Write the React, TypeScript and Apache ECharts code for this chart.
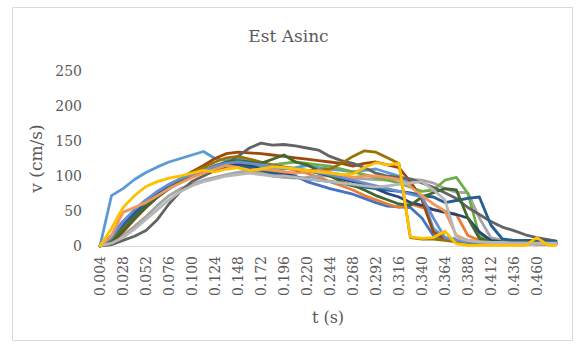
import React, { useEffect, useRef } from "react";
import * as echarts from "echarts";

// time categories 0.004 .. 0.480 s
const categories: string[] = Array.from({ length: 120 }, (_, i) => (0.004 * (i + 1)).toFixed(3));
// sample positions (category indices) at which the values below were read
const sampleIdx: number[] = Array.from({ length: 40 }, (_, k) => k * 3).concat([119]);

const yTicks = [0, 50, 100, 150, 200, 250];

const s01 = [0, 15, 35, 50, 65, 78, 88, 96, 103, 108, 112, 115, 117, 116, 112, 108, 105, 100, 92, 87, 82, 78, 74, 68, 62, 57, 56, 55, 40, 15, 10, 8, 6, 5, 5, 4, 4, 3, 3, 3, 3];
const s02 = [0, 10, 28, 45, 60, 72, 84, 92, 100, 106, 112, 116, 118, 118, 117, 115, 112, 108, 104, 98, 92, 86, 80, 72, 66, 60, 55, 60, 55, 52, 50, 45, 15, 8, 6, 5, 5, 4, 4, 4, 4];
const s03 = [0, 5, 15, 28, 42, 58, 72, 82, 88, 94, 98, 102, 105, 108, 104, 100, 98, 97, 98, 100, 100, 98, 97, 96, 95, 94, 96, 95, 94, 90, 82, 77, 76, 40, 12, 8, 7, 6, 5, 5, 5];
const s04 = [0, 25, 55, 72, 85, 92, 97, 100, 104, 108, 106, 110, 112, 108, 110, 113, 112, 110, 108, 106, 104, 102, 103, 112, 119, 116, 118, 13, 11, 12, 21, 3, 1, 1, 1, 1, 1, 1, 12, 1, 1];
const s05 = [0, 72, 82, 95, 105, 113, 120, 125, 130, 135, 125, 122, 125, 120, 115, 112, 110, 112, 115, 112, 110, 108, 106, 108, 110, 105, 100, 90, 70, 25, 12, 10, 8, 6, 6, 5, 5, 4, 4, 4, 4];
const s06 = [0, 8, 22, 40, 55, 70, 82, 92, 100, 106, 110, 114, 116, 118, 117, 116, 118, 120, 118, 116, 114, 110, 106, 102, 98, 94, 90, 84, 78, 80, 94, 98, 75, 15, 6, 5, 5, 4, 4, 4, 4];
const s07 = [0, 10, 30, 48, 62, 75, 85, 95, 102, 108, 112, 116, 118, 115, 110, 105, 102, 104, 108, 104, 100, 96, 92, 88, 82, 75, 70, 62, 58, 52, 48, 45, 40, 20, 8, 6, 5, 5, 4, 4, 4];
const s08 = [0, 5, 20, 38, 55, 70, 84, 96, 106, 115, 125, 132, 134, 133, 132, 130, 128, 126, 124, 122, 120, 118, 114, 118, 120, 116, 112, 92, 66, 20, 10, 8, 6, 5, 5, 4, 4, 4, 3, 3, 3];
const s09 = [0, 2, 8, 14, 22, 38, 60, 78, 92, 100, 108, 118, 128, 140, 147, 144, 145, 143, 140, 137, 128, 122, 118, 112, 104, 100, 98, 96, 90, 84, 76, 68, 55, 45, 35, 27, 22, 16, 12, 9, 7];
const s10 = [0, 8, 25, 42, 58, 72, 85, 95, 105, 112, 120, 126, 128, 124, 120, 116, 113, 110, 108, 108, 110, 118, 128, 136, 134, 126, 118, 12, 10, 10, 8, 6, 5, 5, 4, 4, 4, 3, 3, 3, 3];
const s11 = [0, 12, 30, 46, 60, 74, 86, 94, 100, 105, 110, 112, 114, 112, 108, 104, 100, 98, 96, 94, 92, 90, 86, 84, 82, 80, 78, 76, 72, 70, 62, 65, 68, 70, 30, 10, 8, 8, 8, 7, 7];
const s12 = [0, 6, 22, 40, 56, 70, 82, 92, 100, 108, 115, 120, 122, 120, 118, 124, 130, 120, 116, 108, 100, 92, 87, 80, 72, 66, 60, 58, 70, 76, 82, 80, 40, 11, 6, 5, 5, 4, 4, 4, 4];
const s13 = [0, 12, 35, 52, 66, 78, 88, 96, 102, 108, 114, 118, 120, 118, 116, 114, 112, 110, 108, 105, 102, 98, 94, 90, 86, 82, 78, 74, 70, 40, 12, 8, 6, 5, 5, 4, 4, 4, 3, 3, 3];
const s14 = [0, 15, 48, 55, 62, 72, 82, 90, 98, 104, 110, 115, 112, 108, 110, 108, 106, 104, 106, 108, 105, 102, 98, 100, 100, 98, 95, 85, 72, 60, 50, 15, 8, 6, 5, 4, 4, 4, 3, 3, 3];
const s15 = [0, 4, 12, 24, 38, 52, 66, 78, 86, 92, 96, 100, 102, 104, 102, 100, 100, 98, 96, 94, 92, 90, 88, 86, 84, 86, 88, 90, 92, 80, 66, 12, 8, 6, 5, 5, 4, 4, 4, 4, 4];

const seriesValues = [s01, s02, s03, s05, s06, s07, s08, s09, s10, s11, s12, s13, s14, s15, s04];
const seriesColors = [
  "#4472C4", "#ED7D31", "#A5A5A5", "#5B9BD5", "#70AD47", "#264478", "#9E480E",
  "#636363", "#997300", "#255E91", "#43682B", "#698ED0", "#F1975A", "#B7B7B7", "#FFC000",
];

const FONT = "'DejaVu Serif', 'Liberation Serif', serif";

export default function App() {
  const ref = useRef<HTMLDivElement>(null);
  useEffect(() => {
    if (!ref.current) return;
    const chart = echarts.init(ref.current, undefined, { renderer: "svg" });
    chart.setOption({
      animation: false,
      backgroundColor: "#ffffff",
      title: {
        text: "Est Asinc",
        left: "center",
        top: 22,
        textStyle: { fontFamily: FONT, fontSize: 17, fontWeight: "normal", color: "#595959" },
      },
      graphic: [
        {
          type: "rect",
          shape: { x: 12.5, y: 7.5, width: 560, height: 333 },
          style: { fill: "none", stroke: "#D9D9D9", lineWidth: 1 },
          silent: true,
          z: -1,
        },
      ],
      grid: { left: 100, right: 21, top: 71, bottom: 101 },
      xAxis: {
        type: "category",
        data: categories,
        boundaryGap: false,
        name: "t (s)",
        nameLocation: "middle",
        nameGap: 63,
        nameTextStyle: { fontFamily: FONT, fontSize: 16, color: "#595959" },
        axisLine: { lineStyle: { color: "#D9D9D9", width: 1 } },
        axisTick: { show: false },
        axisLabel: {
          interval: 5,
          rotate: 90,
          margin: 10,
          fontFamily: FONT,
          fontSize: 14,
          color: "#595959",
        },
        splitLine: { show: false },
      },
      yAxis: {
        type: "value",
        min: 0,
        max: yTicks[yTicks.length - 1],
        interval: 50,
        name: "v (cm/s)",
        nameLocation: "middle",
        nameGap: 50,
        nameTextStyle: { fontFamily: FONT, fontSize: 17, color: "#595959" },
        axisLine: { show: false },
        axisTick: { show: false },
        axisLabel: { margin: 18, fontFamily: FONT, fontSize: 14, color: "#595959" },
        splitLine: { show: false },
      },
      series: seriesValues.map((vals, si) => ({
        type: "line",
        data: vals.map((v, k) => [sampleIdx[k], v]),
        showSymbol: false,
        symbol: "none",
        lineStyle: { width: 2.8, color: seriesColors[si], cap: "round", join: "round" },
        itemStyle: { color: seriesColors[si] },
      })),
    });
    return () => chart.dispose();
  }, []);
  return (
    <div
      ref={ref}
      style={{ position: "absolute", left: 0, top: 0, width: 577, height: 347 }}
    />
  );
}
